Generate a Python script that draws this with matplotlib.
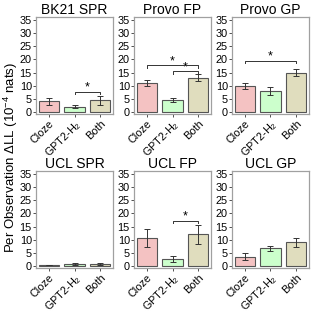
import matplotlib
matplotlib.use("Agg")
import matplotlib.pyplot as plt

plt.rcParams['font.family'] = ['Liberation Sans', 'DejaVu Sans']
plt.rcParams['mathtext.fontset'] = 'custom'
plt.rcParams['mathtext.rm'] = 'Liberation Sans'
plt.rcParams['mathtext.it'] = 'Liberation Sans:italic'

categories = ["Cloze", "GPT2-H$_2$", "Both"]
titles = ["BK21 SPR", "Provo FP", "Provo GP", "UCL SPR", "UCL FP", "UCL GP"]
means = [
    [4.1, 2.0, 4.4],
    [11.0, 4.6, 13.1],
    [9.9, 8.0, 15.0],
    [0.35, 0.9, 0.9],
    [10.6, 2.7, 12.0],
    [3.6, 6.7, 9.0],
]
errors = [
    [1.4, 0.6, 1.6],
    [1.2, 0.8, 1.3],
    [1.1, 1.5, 1.4],
    [0.15, 0.35, 0.35],
    [3.3, 1.0, 3.6],
    [1.2, 1.0, 1.7],
]
# significance brackets: (panel, from bar, to bar, height)
brackets = [
    (0, 2, 3, 7.7),
    (1, 1, 3, 17.8),
    (1, 2, 3, 15.5),
    (2, 1, 3, 19.5),
    (4, 2, 3, 17.2),
]
yticks = [0, 5, 10, 15, 20, 25, 30, 35]
colors = ["#F4C2C2", "#CCFFCC", "#E0DDBE"]

W = H = 314
fig = plt.figure(figsize=(W / 100, H / 100), dpi=100)

lefts = [36, 134, 232]
tops = [17, 171]
pw, ph = 77, 97
axes = []
for r in range(2):
    for c in range(3):
        ax = fig.add_axes([lefts[c] / W, (H - tops[r] - ph) / H, pw / W, ph / H])
        axes.append(ax)

xs = [1, 2, 3]
for i, ax in enumerate(axes):
    ax.bar(xs, means[i], width=0.8, color=colors, edgecolor="#555555", linewidth=0.8, zorder=2)
    ax.errorbar(xs, means[i], yerr=errors[i], fmt="none", ecolor="#333333",
                elinewidth=0.7, capsize=2, capthick=0.7, zorder=3)
    ax.set_xlim(0.5, 3.5)
    ax.set_ylim(-0.75, 36.1)
    ax.set_yticks(yticks)
    ax.set_yticklabels([str(t) for t in yticks])
    ax.set_xticks(xs)
    ax.set_xticklabels(categories, rotation=45, ha="right", rotation_mode="anchor")
    ax.tick_params(axis="both", labelsize=7.8, length=2, width=0.6, color="#333333",
                   pad=1, labelcolor="black")
    for s in ax.spines.values():
        s.set_color("#A0A0A0")
        s.set_linewidth(0.9)
    ax.set_title(titles[i], fontsize=10, pad=2)

for (p, a, b, h) in brackets:
    ax = axes[p]
    ax.plot([a, a, b, b], [h - 1.0, h, h, h - 1.0], color="#333333", lw=0.7, zorder=4)
    ax.text((a + b) / 2, h - 0.8, "*", ha="center", va="bottom", fontsize=9)

fig.text(10.5 / W, 0.5, "Per Observation ΔLL (10$^{-4}$ nats)", rotation=90,
         ha="center", va="center", fontsize=9.5)

fig.savefig("out.png", dpi=100)
